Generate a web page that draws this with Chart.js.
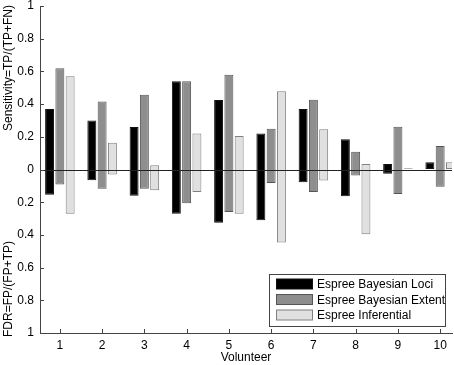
<!DOCTYPE html>
<html>
<head>
<meta charset="utf-8">
<script src="https://cdn.jsdelivr.net/npm/chart.js@4"></script>
<style>
  body { margin: 0; background: #fff; }
  canvas { display: block; }
</style>
</head>
<body>
<canvas id="chart" width="454" height="365"></canvas>
<script>
// values (sensitivity up, FDR down)
const volunteers = [1, 2, 3, 4, 5, 6, 7, 8, 9, 10];
const lociSens = [0.37, 0.30, 0.26, 0.54, 0.425, 0.22, 0.37, 0.185, 0.033, 0.045];
const lociFdr = [0.154, 0.066, 0.16, 0.27, 0.326, 0.31, 0.078, 0.164, 0.026, 0];
const extentSens = [0.62, 0.416, 0.457, 0.54, 0.58, 0.25, 0.426, 0.108, 0.262, 0.143];
const extentFdr = [0.092, 0.117, 0.117, 0.207, 0.26, 0.082, 0.138, 0.036, 0.15, 0.105];
const infSens = [0.57, 0.164, 0.026, 0.22, 0.205, 0.478, 0.246, 0.033, 0.008, 0.045];
const infFdr = [0.27, 0.031, 0.127, 0.138, 0.27, 0.447, 0.068, 0.396, 0, 0];
const yTicks = [-1, -0.8, -0.6, -0.4, -0.2, 0, 0.2, 0.4, 0.6, 0.8, 1];

const FONT = 'Liberation Sans, Arial, sans-serif';
const AXIS = '#444';

const toBars = (sens, fdr) => volunteers.map((v, i) => ({ x: v, y: [-fdr[i], sens[i]] }));

const series = [
  { label: 'Espree Bayesian Loci', data: toBars(lociSens, lociFdr), fill: '#000000', edge: '#111111' },
  { label: 'Espree Bayesian Extent', data: toBars(extentSens, extentFdr), fill: '#8e8e8e', edge: '#555555' },
  { label: 'Espree Inferential', data: toBars(infSens, infFdr), fill: '#e0e0e0', edge: '#808080' },
];

// inward ticks, zero line, axis titles and boxed legend (matlab look)
const decor = {
  id: 'decor',
  afterDatasetsDraw(chart) {
    const { ctx, chartArea: a, scales: { x, y } } = chart;
    ctx.save();
    ctx.strokeStyle = '#222';
    ctx.lineWidth = 1;
    const y0 = Math.round(y.getPixelForValue(0)) + 0.5;
    ctx.beginPath();
    ctx.moveTo(a.left, y0);
    ctx.lineTo(a.right, y0);
    ctx.stroke();

    ctx.strokeStyle = AXIS;
    ctx.beginPath();
    yTicks.forEach(v => {
      const p = Math.round(y.getPixelForValue(v)) + 0.5;
      ctx.moveTo(a.left, p);
      ctx.lineTo(a.left + 4, p);
    });
    volunteers.forEach(v => {
      const p = Math.round(x.getPixelForValue(v)) + 0.5;
      ctx.moveTo(p, a.bottom);
      ctx.lineTo(p, a.bottom - 4);
    });
    ctx.stroke();
    ctx.restore();
  },
  afterDraw(chart) {
    const { ctx, chartArea: a } = chart;
    ctx.save();
    ctx.fillStyle = '#000';
    ctx.font = '12px ' + FONT;
    ctx.textAlign = 'center';
    ctx.textBaseline = 'middle';
    ctx.fillText('Volunteer', (a.left + a.right) / 2, 358);
    [['Sensitivity=TP/(TP+FN)', 68], ['FDR=FP/(FP+TP)', 289]].forEach(([t, cy]) => {
      ctx.save();
      ctx.translate(9, cy);
      ctx.rotate(-Math.PI / 2);
      ctx.fillText(t, 0, 0);
      ctx.restore();
    });

    // legend box
    const bx = 269.5, by = 274.5, bw = 176, bh = 52;
    ctx.fillStyle = '#fff';
    ctx.fillRect(bx, by, bw, bh);
    ctx.strokeStyle = AXIS;
    ctx.strokeRect(bx, by, bw, bh);
    ctx.textAlign = 'left';
    series.forEach((s, i) => {
      const cy = 284 + i * 15.5;
      ctx.fillStyle = s.fill;
      ctx.fillRect(276.5, cy - 5, 36, 10);
      ctx.strokeStyle = s.edge;
      ctx.strokeRect(276.5, cy - 5, 36, 10);
      ctx.fillStyle = '#000';
      ctx.fillText(s.label, 317, cy + 1);
    });
    ctx.restore();
  }
};

new Chart(document.getElementById('chart'), {
  type: 'bar',
  data: {
    datasets: series.map(s => ({
      label: s.label,
      data: s.data,
      backgroundColor: s.fill,
      borderColor: s.edge,
      borderWidth: 1,
      borderSkipped: false,
      categoryPercentage: 0.73,
      barPercentage: 0.87,
    })),
  },
  options: {
    responsive: false,
    animation: false,
    layout: { padding: { top: 6, right: 2, left: 0, bottom: 0 } },
    plugins: {
      legend: { display: false },
      tooltip: { enabled: false },
    },
    scales: {
      x: {
        type: 'linear',
        offset: false,
        min: 0.53,
        max: 10.28,
        afterBuildTicks: s => { s.ticks = volunteers.map(v => ({ value: v })); },
        afterFit: s => { s.height = 32; s.paddingLeft = 0; s.paddingRight = 0; },
        grid: { drawOnChartArea: false, drawTicks: false },
        border: { color: AXIS },
        ticks: { color: '#000', font: { family: FONT, size: 12 }, padding: 5, maxRotation: 0 },
      },
      y: {
        min: -1,
        max: 1,
        afterBuildTicks: s => { s.ticks = yTicks.map(v => ({ value: v })); },
        afterFit: s => { s.width = 40; s.paddingTop = 0; s.paddingBottom = 0; },
        grid: { drawOnChartArea: false, drawTicks: false },
        border: { color: AXIS },
        ticks: {
          color: '#000',
          font: { family: FONT, size: 12 },
          padding: 6,
          callback: v => String(Math.round(Math.abs(v) * 10) / 10),
        },
      },
    },
  },
  plugins: [decor],
});
</script>
</body>
</html>
